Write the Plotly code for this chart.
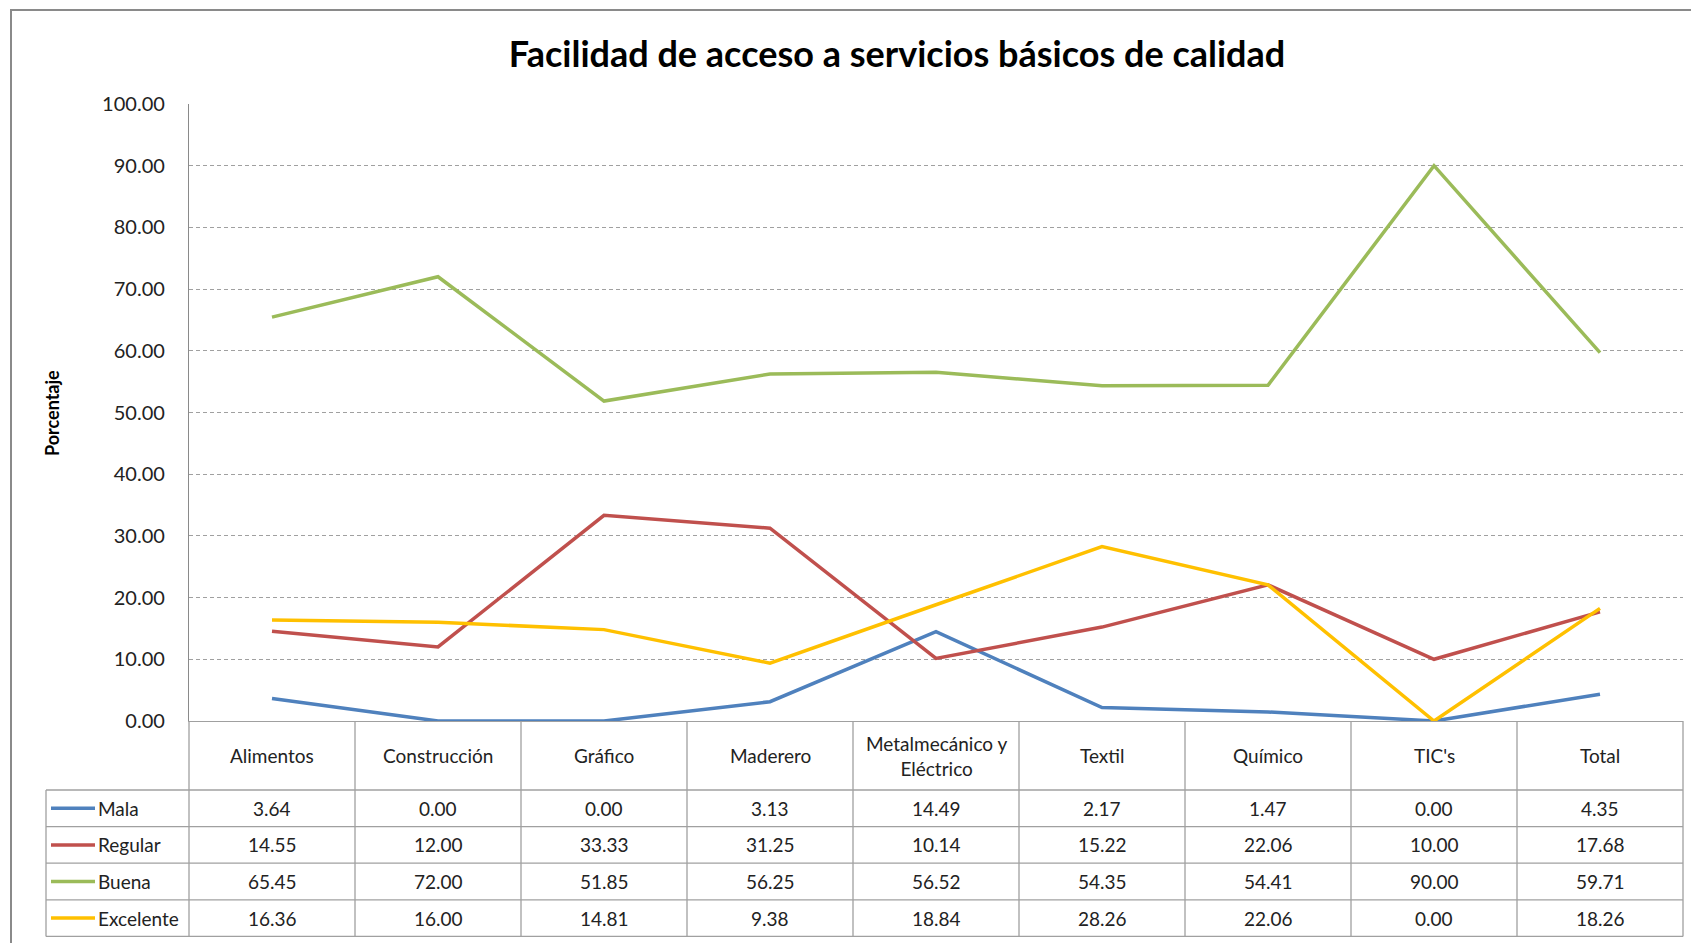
import plotly.graph_objects as go

categorias = ["Alimentos", "Construcción", "Gráfico", "Maderero", "Metalmecánico y<br>Eléctrico",
              "Textil", "Químico", "TIC's", "Total"]
mala = [3.64, 0.00, 0.00, 3.13, 14.49, 2.17, 1.47, 0.00, 4.35]
regular = [14.55, 12.00, 33.33, 31.25, 10.14, 15.22, 22.06, 10.00, 17.68]
buena = [65.45, 72.00, 51.85, 56.25, 56.52, 54.35, 54.41, 90.00, 59.71]
excelente = [16.36, 16.00, 14.81, 9.38, 18.84, 28.26, 22.06, 0.00, 18.26]
series = ["Mala", "Regular", "Buena", "Excelente"]
valores = [mala, regular, buena, excelente]
colores = ["#4F81BD", "#C0504D", "#9BBB59", "#FFC000"]

W, H = 1691, 943
L, R, T, B = 189, 1683, 104, 721
FONT = "Lato"
GRIS = "#A0A0A0"
TXT = 19


def px_x(p):
    return (p - L) / (R - L)


def px_y(p):
    return (B - p) / (B - T)


fig = go.Figure()
for nombre, vals, col in zip(series, valores, colores):
    fig.add_trace(go.Scatter(x=categorias, y=vals, name=nombre, mode="lines",
                             line=dict(color=col, width=3.5), cliponaxis=False))

# tabla de datos bajo el grafico
head_bottom = 790
row_h = 36.6
row_lines = [head_bottom + row_h * k for k in range(len(series) + 1)]
legend_left = 46

shapes = []
annotations = []
n = len(categorias)
for i in range(n + 1):
    shapes.append(dict(type="line", xref="paper", yref="paper", x0=i / n, x1=i / n,
                       y0=0, y1=px_y(row_lines[-1]), line=dict(color=GRIS, width=1.3)))
shapes.append(dict(type="line", xref="paper", yref="paper", x0=px_x(legend_left), x1=px_x(legend_left),
                   y0=px_y(row_lines[0]), y1=px_y(row_lines[-1]), line=dict(color=GRIS, width=1.3)))
for yl in row_lines:
    shapes.append(dict(type="line", xref="paper", yref="paper", x0=px_x(legend_left), x1=1,
                       y0=px_y(yl), y1=px_y(yl), line=dict(color=GRIS, width=1.3)))


def texto(x, y, t, size=TXT, xanchor="center", **kw):
    annotations.append(dict(x=x, y=y, xref="paper", yref="paper", text=t, showarrow=False,
                            xanchor=xanchor, yanchor="middle", font=dict(size=size, color="#222"), **kw))


for i, cat in enumerate(categorias):
    texto((i + 0.5) / n, px_y((B + head_bottom) / 2), cat)

for k, (nombre, vals, col) in enumerate(zip(series, valores, colores)):
    yc = px_y(row_lines[k] + row_h / 2)
    shapes.append(dict(type="line", xref="paper", yref="paper", x0=px_x(51), x1=px_x(95),
                       y0=yc, y1=yc, line=dict(color=col, width=3.5)))
    texto(px_x(96), yc, nombre, xanchor="left")
    for i, v in enumerate(vals):
        texto((i + 0.5) / n, yc, f"{v:.2f}")

# titulo del eje y
annotations.append(dict(x=px_x(52), y=px_y(413), xref="paper", yref="paper", text="<b>Porcentaje</b>",
                        textangle=-90, showarrow=False, xanchor="center", yanchor="middle",
                        font=dict(size=18, color="#000")))

# borde exterior
shapes.append(dict(type="rect", xref="paper", yref="paper", x0=px_x(11), x1=px_x(1720),
                   y0=px_y(10), y1=px_y(980), line=dict(color="#8A8A8A", width=2), layer="below"))

fig.update_layout(
    width=W, height=H,
    margin=dict(l=L, r=W - R, t=T, b=H - B, pad=0),
    paper_bgcolor="white", plot_bgcolor="white",
    showlegend=False,
    font=dict(family=FONT, size=TXT, color="#222"),
    title=dict(text="<b>Facilidad de acceso a servicios básicos de calidad</b>",
               x=897 / W, xref="container", xanchor="center",
               y=1 - 54 / H, yref="container", yanchor="middle",
               font=dict(family=FONT, size=36, color="#000")),
    shapes=shapes, annotations=annotations,
)
fig.update_xaxes(type="category", range=[-0.5, n - 0.5], showticklabels=False, showgrid=False,
                 showline=True, linecolor=GRIS, linewidth=1.3, zeroline=False, ticks="")
fig.update_yaxes(range=[0, 100], dtick=10, tickformat=".2f", showgrid=True, gridcolor="#A0A0A0",
                 griddash="4px,3px", gridwidth=1, showline=True, linecolor="#8A8A8A", linewidth=1.3,
                 zeroline=False, ticks="", ticklabelstandoff=19,
                 tickfont=dict(family=FONT, size=20, color="#222"))

fig.write_html("out.html", config={"displayModeBar": False},
               post_script="document.body.style.margin='0';")
